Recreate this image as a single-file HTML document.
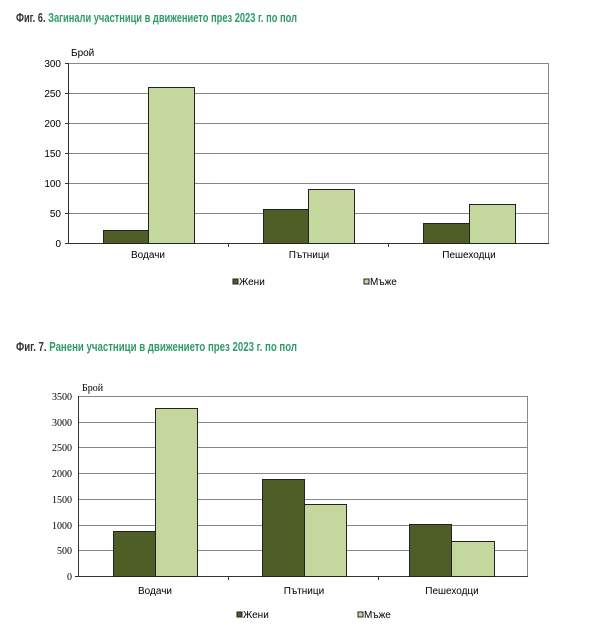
<!DOCTYPE html>
<html><head><meta charset="utf-8"><style>
body{margin:0;background:#fff;width:604px;height:628px;overflow:hidden}
svg{display:block}
.t{font-family:"Liberation Sans",sans-serif;font-size:10px;fill:#000}
.s{font-family:"Liberation Serif",serif;font-size:10px;fill:#000}
.ti{font-family:"Liberation Sans",sans-serif;font-size:13px;font-weight:bold}
</style></head><body>
<svg width="604" height="628" viewBox="0 0 604 628">
<!-- Title 1 -->
<text class="ti" x="16" y="22" textLength="281" lengthAdjust="spacingAndGlyphs"><tspan fill="#333">Фиг. 6. </tspan><tspan fill="#2e9a6a">Загинали участници в движението през 2023 г. по пол</tspan></text>
<!-- Chart 1 -->
<g stroke="#888" stroke-width="1">
<line x1="68" y1="63.5" x2="549" y2="63.5"/><line x1="68" y1="93.5" x2="549" y2="93.5"/>
<line x1="68" y1="123.5" x2="549" y2="123.5"/><line x1="68" y1="153.5" x2="549" y2="153.5"/>
<line x1="68" y1="183.5" x2="549" y2="183.5"/><line x1="68" y1="213.5" x2="549" y2="213.5"/>
<line x1="548.5" y1="63" x2="548.5" y2="243"/>
</g>
<g stroke="#333" stroke-width="1">
<line x1="68.5" y1="63" x2="68.5" y2="243"/><line x1="65" y1="243.5" x2="549" y2="243.5"/>
<line x1="228.5" y1="243" x2="228.5" y2="247"/><line x1="388.5" y1="243" x2="388.5" y2="247"/>
<line x1="65" y1="63.5" x2="68" y2="63.5"/><line x1="65" y1="93.5" x2="68" y2="93.5"/><line x1="65" y1="123.5" x2="68" y2="123.5"/><line x1="65" y1="153.5" x2="68" y2="153.5"/><line x1="65" y1="183.5" x2="68" y2="183.5"/><line x1="65" y1="213.5" x2="68" y2="213.5"/>
</g>
<g stroke="#222" stroke-width="1">
<rect x="103.5" y="230.5" width="45" height="13" fill="#4e5e26"/>
<rect x="148.5" y="87.5" width="46" height="156" fill="#c4d89e"/>
<rect x="263.5" y="209.5" width="45" height="34" fill="#4e5e26"/>
<rect x="308.5" y="189.5" width="46" height="54" fill="#c4d89e"/>
<rect x="423.5" y="223.5" width="46" height="20" fill="#4e5e26"/>
<rect x="469.5" y="204.5" width="46" height="39" fill="#c4d89e"/>
</g>
<g class="t" text-anchor="end">
<text x="61" y="67">300</text><text x="61" y="97">250</text><text x="61" y="127">200</text>
<text x="61" y="157">150</text><text x="61" y="187">100</text><text x="61" y="217">50</text><text x="61" y="247">0</text>
</g>
<text class="t" x="71" y="56">Брой</text>
<g class="t" text-anchor="middle"><text x="148" y="258">Водачи</text><text x="309" y="258">Пътници</text><text x="469" y="258">Пешеходци</text></g>
<rect x="233" y="279" width="5" height="5" fill="#4e5e26" stroke="#222"/><text class="t" x="239" y="285">Жени</text>
<rect x="364" y="279" width="5" height="5" fill="#c4d89e" stroke="#222"/><text class="t" x="370" y="285">Мъже</text>

<!-- Title 2 -->
<text class="ti" x="16" y="351" textLength="281" lengthAdjust="spacingAndGlyphs"><tspan fill="#333">Фиг. 7. </tspan><tspan fill="#2e9a6a">Ранени участници в движението през 2023 г. по пол</tspan></text>
<!-- Chart 2 -->
<g stroke="#888" stroke-width="1">
<line x1="78" y1="396.5" x2="528" y2="396.5"/><line x1="78" y1="422.5" x2="528" y2="422.5"/>
<line x1="78" y1="447.5" x2="528" y2="447.5"/><line x1="78" y1="473.5" x2="528" y2="473.5"/>
<line x1="78" y1="499.5" x2="528" y2="499.5"/><line x1="78" y1="525.5" x2="528" y2="525.5"/>
<line x1="78" y1="550.5" x2="528" y2="550.5"/><line x1="527.5" y1="396" x2="527.5" y2="576"/>
</g>
<g stroke="#333" stroke-width="1">
<line x1="78.5" y1="396" x2="78.5" y2="576"/><line x1="75" y1="576.5" x2="528" y2="576.5"/>
<line x1="228.5" y1="576" x2="228.5" y2="580"/><line x1="378.5" y1="576" x2="378.5" y2="580"/>
</g>
<g stroke="#222" stroke-width="1">
<rect x="113.5" y="531.5" width="42" height="45" fill="#4e5e26"/>
<rect x="155.5" y="408.5" width="42" height="168" fill="#c4d89e"/>
<rect x="262.5" y="479.5" width="42" height="97" fill="#4e5e26"/>
<rect x="304.5" y="504.5" width="42" height="72" fill="#c4d89e"/>
<rect x="409.5" y="524.5" width="42" height="52" fill="#4e5e26"/>
<rect x="451.5" y="541.5" width="43" height="35" fill="#c4d89e"/>
</g>
<g class="s" text-anchor="end">
<text x="72" y="400">3500</text><text x="72" y="426">3000</text><text x="72" y="451">2500</text>
<text x="72" y="477">2000</text><text x="72" y="503">1500</text><text x="72" y="529">1000</text>
<text x="72" y="554">500</text><text x="72" y="580">0</text>
</g>
<text class="s" x="82" y="391">Брой</text>
<g class="t" text-anchor="middle"><text x="155" y="594">Водачи</text><text x="304" y="594">Пътници</text><text x="452" y="594">Пешеходци</text></g>
<rect x="237" y="612" width="5" height="5" fill="#4e5e26" stroke="#222"/><text class="t" x="243" y="618">Жени</text>
<rect x="358" y="612" width="5" height="5" fill="#c4d89e" stroke="#222"/><text class="t" x="364" y="618">Мъже</text>
</svg>
</body></html>
